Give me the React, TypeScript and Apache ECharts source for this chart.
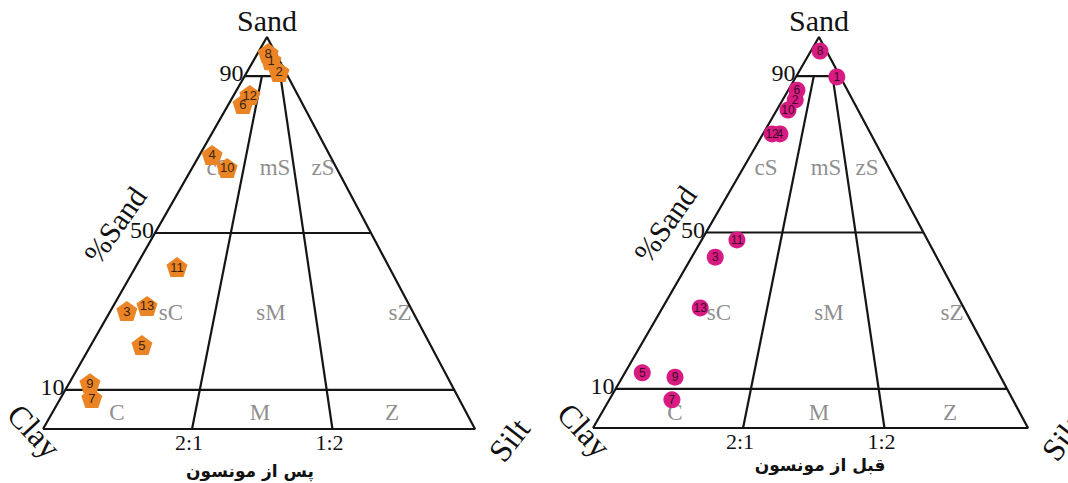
import React, { useEffect, useRef } from 'react';
import * as echarts from 'echarts';

// ---- Data (percent Sand / Silt / Clay) ----
const postLabels = ['1', '8', '2', '12', '6', '4', '10', '11', '3', '13', '5', '9', '7'];
const postSand = [94.1, 95.9, 91.1, 85.2, 82.9, 69.9, 66.6, 41.3, 30.1, 31.4, 21.4, 11.7, 7.9];
const postSilt = [4.0, 2.4, 7.4, 3.7, 3.3, 2.9, 8.1, 9.6, 3.8, 7.8, 11.8, 4.8, 7.2];
const postClay = [1.9, 1.7, 1.5, 11.1, 13.8, 27.2, 25.3, 49.1, 66.1, 60.8, 66.8, 83.5, 84.9];

const preLabels = ['8', '1', '10', '2', '6', '12', '4', '11', '3', '13', '5', '9', '7'];
const preSand = [96.4, 89.8, 81.3, 83.9, 86.4, 75.2, 75.2, 48.1, 43.7, 30.7, 14.1, 13.0, 7.2];
const preSilt = [2.1, 9.4, 2.6, 2.9, 2.0, 2.1, 3.9, 8.1, 5.4, 8.7, 4.0, 12.1, 14.4];
const preClay = [1.5, 0.8, 16.1, 13.2, 11.6, 22.7, 20.9, 43.8, 50.9, 60.6, 81.9, 74.9, 78.4];

// classification boundaries
const sandLevels = [90, 50, 10];
const levelLabels = ['90', '50', '10'];
// silt share of non-sand fraction where the divider lines meet base and the 90% line
const dividerBase = [0.345, 0.67];
const dividerTop = [0.40, 0.83];
const ratioLabels = ['2:1', '1:2'];
const regionRows = [
  ['cS', 'mS', 'zS'],
  ['sC', 'sM', 'sZ'],
  ['C', 'M', 'Z'],
];
const captions = ['پس از مونسون', 'قبل از مونسون'];

const PENTAGON = 'path://M50,0 L100,38 L81,100 L19,100 L0,38 Z';
const SERIF = "'Liberation Serif', 'Times New Roman', serif";

const panels = [
  {
    grid: { left: 43, top: 37, width: 432, height: 392 },
    apex: 0.5185,
    labels: postLabels, sand: postSand, silt: postSilt, clay: postClay,
    color: '#EA8425', symbol: PENTAGON, size: [21, 20], textColor: '#3a2410', labelSize: 13,
    regionX: [[218, 275, 323], [171, 271, 400], [117, 260, 392]],
    caption: [250, 471],
  },
  {
    grid: { left: 593, top: 37, width: 435, height: 391 },
    apex: 0.5195,
    labels: preLabels, sand: preSand, silt: preSilt, clay: preClay,
    color: '#D81B82', symbol: 'circle', size: 17, textColor: '#3a0a26', labelSize: 12,
    regionX: [[766, 826, 867], [719, 829, 952], [675, 819, 950]],
    caption: [820, 465],
  },
];
const regionY = [167, 312, 412];

function toXY(sand: number, silt: number, clay: number, a: number) {
  const t = sand + silt + clay;
  const s = sand / t;
  const z = silt / t;
  return [z + s * a, s];
}

function buildOption() {
  const grids: any[] = [];
  const xAxes: any[] = [];
  const yAxes: any[] = [];
  const series: any[] = [];
  const graphics: any[] = [];

  panels.forEach((p, i) => {
    grids.push({ ...p.grid, containLabel: false });
    xAxes.push({ type: 'value', min: 0, max: 1, show: false, gridIndex: i });
    yAxes.push({ type: 'value', min: 0, max: 1, show: false, gridIndex: i });
    const a = p.apex;
    const g = p.grid;
    const px = (x: number, y: number) => [g.left + x * g.width, g.top + (1 - y) * g.height];
    const lineStyle = { color: '#151515', width: 2.2 };
    const lineBase = {
      type: 'line', xAxisIndex: i, yAxisIndex: i, symbol: 'none', silent: true,
      lineStyle, z: 1,
    };
    // outer triangle
    series.push({ ...lineBase, data: [[0, 0], [1, 0], [a, 1], [0, 0]] });
    // horizontal sand levels
    sandLevels.forEach((lv) => {
      const h = lv / 100;
      series.push({ ...lineBase, data: [[h * a, h], [h * a + (1 - h), h]] });
    });
    // ratio dividers
    dividerBase.forEach((b, k) => {
      const h = sandLevels[0] / 100;
      series.push({ ...lineBase, data: [[b, 0], [h * a + (1 - h) * dividerTop[k], h]] });
    });
    // samples
    series.push({
      type: 'scatter', xAxisIndex: i, yAxisIndex: i, z: 5,
      symbol: p.symbol, symbolSize: p.size,
      itemStyle: { color: p.color, opacity: 1 },
      label: {
        show: true, position: 'inside', formatter: (d: any) => d.name,
        fontSize: p.labelSize, fontFamily: "'Liberation Sans', Arial, sans-serif", color: p.textColor,
      },
      data: p.labels.map((lab, k) => ({
        name: lab,
        value: toXY(p.sand[k], p.silt[k], p.clay[k], a),
      })),
    });

    // texts
    const apexP = px(a, 1);
    graphics.push({
      type: 'text', x: apexP[0], y: apexP[1] - 17,
      style: { text: 'Sand', fontSize: 30, fontFamily: SERIF, fill: '#111', align: 'center', verticalAlign: 'middle' },
    });
    sandLevels.forEach((lv, k) => {
      const h = lv / 100;
      const q = px(h * a, h);
      graphics.push({
        type: 'text', x: q[0] - 1, y: q[1] - 3,
        style: { text: levelLabels[k], fontSize: 24, fontFamily: SERIF, fill: '#111', align: 'right', verticalAlign: 'middle' },
      });
    });
    const origin = px(0, 0);
    const silt = px(1, 0);
    graphics.push({
      type: 'text', x: origin[0] + 72, y: origin[1] - 204, rotation: (55 * Math.PI) / 180,
      style: { text: '%Sand', fontSize: 30, fontFamily: SERIF, fill: '#111', align: 'center', verticalAlign: 'middle' },
    });
    graphics.push({
      type: 'text', x: origin[0] - 9, y: origin[1] + 2, rotation: (-47 * Math.PI) / 180,
      style: { text: 'Clay', fontSize: 32, fontFamily: SERIF, fill: '#111', align: 'center', verticalAlign: 'middle' },
    });
    graphics.push({
      type: 'text', x: silt[0] + 34, y: silt[1] + 11, rotation: (52 * Math.PI) / 180,
      style: { text: 'Silt', fontSize: 32, fontFamily: SERIF, fill: '#111', align: 'center', verticalAlign: 'middle' },
    });
    dividerBase.forEach((b, k) => {
      const q = px(b, 0);
      graphics.push({
        type: 'text', x: q[0] - 3, y: q[1] + 13,
        style: { text: ratioLabels[k], fontSize: 22, fontFamily: SERIF, fill: '#111', align: 'center', verticalAlign: 'middle' },
      });
    });
    regionRows.forEach((row, r) => {
      row.forEach((txt, c) => {
        graphics.push({
          type: 'text', x: p.regionX[r][c], y: regionY[r], z: 0,
          style: { text: txt, fontSize: 23, fontFamily: SERIF, fill: '#8f8f8f', align: 'center', verticalAlign: 'middle' },
        });
      });
    });
    graphics.push({
      type: 'text', x: p.caption[0], y: p.caption[1],
      style: { text: captions[i], fontSize: 17, fontWeight: 'bold', fontFamily: "'DejaVu Sans', 'Noto Sans', sans-serif", fill: '#111', align: 'center', verticalAlign: 'middle' },
    });
  });

  return {
    animation: false,
    backgroundColor: '#ffffff',
    grid: grids,
    xAxis: xAxes,
    yAxis: yAxes,
    series,
    graphic: graphics,
  };
}

export default function App() {
  const ref = useRef<HTMLDivElement>(null);
  useEffect(() => {
    if (!ref.current) return;
    const chart = echarts.init(ref.current, undefined, { renderer: 'svg' });
    chart.setOption(buildOption() as any);
    return () => chart.dispose();
  }, []);
  return (
    <div
      ref={ref}
      style={{ position: 'fixed', left: 0, top: 0, width: 1068, height: 483, background: '#fff' }}
    />
  );
}
